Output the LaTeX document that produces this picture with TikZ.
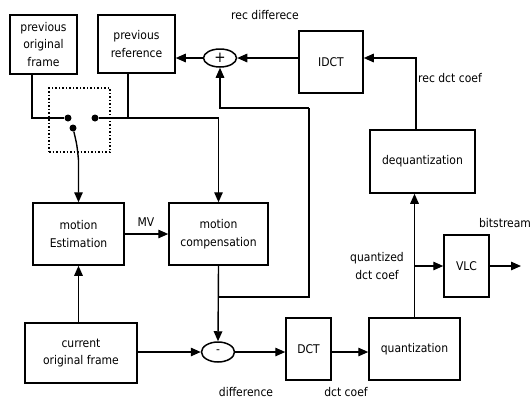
\documentclass[tikz,border=0pt]{standalone}
\usepackage{fontspec}
\setmainfont{DejaVu Sans Condensed}
\usetikzlibrary{arrows.meta,shapes.geometric}
\begin{document}
\begin{tikzpicture}[x=1pt,y=-1pt,
  box/.style={draw,line width=1.5pt,align=center,inner sep=1pt,font=\fontsize{12}{17.5}\selectfont},
  oval/.style={draw,ellipse,line width=1.5pt,inner sep=0pt,minimum width=33,minimum height=18,font=\fontsize{15}{15}\selectfont},
  lbl/.style={font=\fontsize{12}{17.5}\selectfont,inner sep=0pt,align=center},
  wire/.style={line width=1.4pt},
  arr/.style={wire,-{Triangle[length=10pt,width=8.5pt]}},
  dotbox/.style={draw,dotted,line width=1.5pt,minimum width=61,minimum height=64,inner sep=0pt},
  dot/.style={circle,fill,inner sep=0pt,minimum size=7pt}]
\useasboundingbox (0,0) rectangle (532,402);
% boxes
\node[box,minimum width=67,minimum height=59] (pof) at (43.5,44.5) {previous\\original\\frame};
\node[box,minimum width=77,minimum height=58] (pref) at (136.5,44) {previous\\reference};
\node[oval] (plus) at (220,58) {+};
\node[box,minimum width=64,minimum height=62] (idct) at (331,62) {IDCT};
\node[box,minimum width=105,minimum height=63] (deq) at (422.5,161.5) {dequantization};
\node[box,minimum width=91,minimum height=62] (me) at (78.5,234) {motion\\Estimation};
\node[box,minimum width=99,minimum height=62] (mc) at (218.5,234) {motion\\compensation};
\node[box,minimum width=112,minimum height=60] (cof) at (81,353) {current\\original frame};
\node[oval,minimum height=20,font=\fontsize{12}{12}\selectfont] (minus) at (218,352) {-};
\node[box,minimum width=45,minimum height=62] (dct) at (308.5,349) {DCT};
\node[box,minimum width=91,minimum height=62] (quant) at (414.5,349) {quantization};
\node[box,minimum width=45,minimum height=62] (vlc) at (466.5,266) {VLC};
\node[dotbox] (swbox) at (79.5,120) {};
% labels
\node[lbl] (l1) at (265,15) {rec differece};
\node[lbl,anchor=west] (l2) at (418,78) {rec dct coef};
\node[lbl] (l3) at (146,222) {MV};
\node[lbl] (l4) at (505,223) {bitstream};
\node[lbl] (l5) at (377,266) {quantized\\dct coef};
\node[lbl] (l6) at (246,392) {difference};
\node[lbl] (l7) at (346,392) {dct coef};
% coordinates
\coordinate (a1) at (32,118);
\coordinate (sw1) at (68,118);
\coordinate (sw2) at (73,128);
\coordinate (sw3) at (95,118);
\coordinate (j2) at (128,118);
\coordinate (j1) at (218.5,297);
\coordinate (fb) at (309,108);
\coordinate (r1) at (416,58);
\coordinate (out) at (521,266);
% switch
\node[dot] (d1) at (sw1) {};
\node[dot] (d2) at (sw2) {};
\node[dot] (d3) at (sw3) {};
\draw[wire] (pof.south -| a1) -- (a1) -- (d1);
\draw[arr] (d2) .. controls (77,145) .. (78.5,160) -- (me.north);
\draw[arr] (d3) -| (mc.north);
\draw[wire] (pref.south -| j2) -- (j2);
% reconstruction loop
\draw[arr] (idct.west |- plus) -- (plus.east);
\draw[arr] (plus.west) -- (pref.east |- plus);
\draw[arr] (deq.north -| r1) -- (r1) -- (idct.east |- r1);
\draw[wire] (j1) -| (fb);
\draw[arr] (fb) -| (plus.south);
% main path
\draw[arr] (mc.south) -- (minus.north);
\draw[arr] (me.east) -- (mc.west);
\draw[arr] (cof.north -| me.south) -- (me.south);
\draw[arr] (cof.east |- minus) -- (minus.west);
\draw[arr] (minus.east) -- (dct.west |- minus);
\draw[arr] (dct.east |- minus) -- (quant.west |- minus);
\draw[arr] (quant.north) -- (quant.north |- deq.south);
\draw[arr] (quant.north |- vlc.west) -- (vlc.west);
\draw[arr] (vlc.east) -- (out);
\end{tikzpicture}
\end{document}
